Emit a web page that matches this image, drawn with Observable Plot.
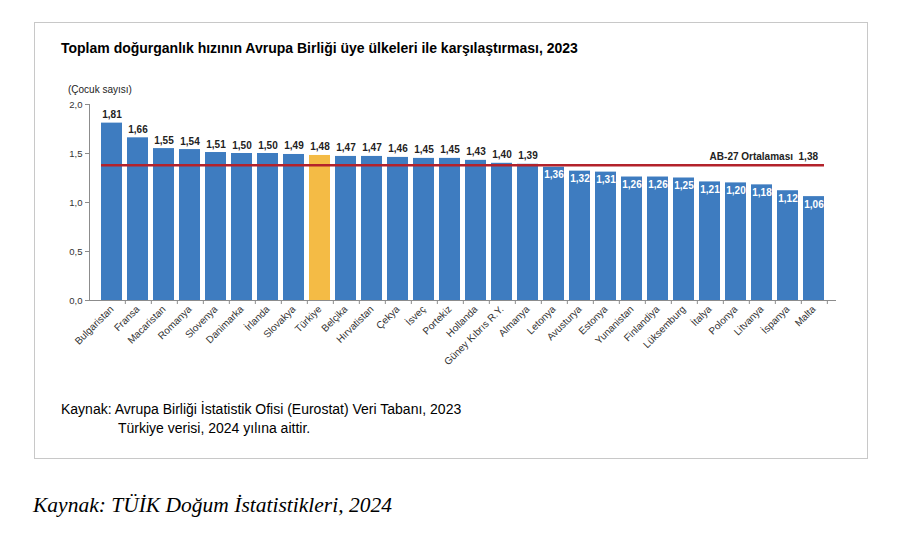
<!DOCTYPE html>
<html lang="tr">
<head>
<meta charset="utf-8">
<script src="https://cdn.jsdelivr.net/npm/d3@7"></script>
<script src="https://cdn.jsdelivr.net/npm/@observablehq/plot@0.6"></script>
<style>
  body { margin: 0; background: #fff; font-family: Arial, "Liberation Sans", sans-serif; }
  #page { position: relative; width: 900px; height: 542px; overflow: hidden; }
  #box { position: absolute; left: 34px; top: 22px; width: 832px; height: 435px; border: 1px solid #c8c8c8; }
  .t { position: absolute; white-space: nowrap; line-height: 1; color: #000; }
  #title { left: 61px; top: 41px; font-size: 14px; font-weight: bold; }
  #unit { left: 68px; top: 85px; font-size: 10px; color: #222; }
  #chart { position: absolute; left: 34px; top: 80px; }
  #src1 { left: 61px; top: 402px; font-size: 14px; }
  #src2 { left: 118px; top: 421px; font-size: 14px; }
  #src3 { left: 33px; top: 495px; font-size: 21.5px; font-style: italic; font-family: "Liberation Serif", "Times New Roman", serif; }
</style>
</head>
<body>
<div id="page">
  <div id="box"></div>
  <div class="t" id="title">Toplam doğurganlık hızının Avrupa Birliği üye ülkeleri ile karşılaştırması, 2023</div>
  <div class="t" id="unit">(Çocuk sayısı)</div>
  <div id="chart"></div>
  <div class="t" id="src1">Kaynak: Avrupa Birliği İstatistik Ofisi (Eurostat) Veri Tabanı, 2023</div>
  <div class="t" id="src2">Türkiye verisi, 2024 yılına aittir.</div>
  <div class="t" id="src3">Kaynak: TÜİK Doğum İstatistikleri, 2024</div>
</div>
<script>
// Total fertility rate by country, 2023 (Türkiye: 2024)
const countries = ["Bulgaristan", "Fransa", "Macaristan", "Romanya", "Slovenya", "Danimarka", "İrlanda", "Slovakya", "Türkiye", "Belçika", "Hırvatistan", "Çekya", "İsveç", "Portekiz", "Hollanda", "Güney Kıbrıs R.Y.", "Almanya", "Letonya", "Avusturya", "Estonya", "Yunanistan", "Finlandiya", "Lüksemburg", "İtalya", "Polonya", "Litvanya", "İspanya", "Malta"];
const rates = [1.81, 1.66, 1.55, 1.54, 1.51, 1.50, 1.50, 1.49, 1.48, 1.47, 1.47, 1.46, 1.45, 1.45, 1.43, 1.40, 1.39, 1.36, 1.32, 1.31, 1.26, 1.26, 1.25, 1.21, 1.20, 1.18, 1.12, 1.06];
const euAverage = 1.38;
const averageLabel = "AB-27 Ortalaması  1,38";
const yTicks = [0, 0.5, 1.0, 1.5, 2.0];
const highlight = "Türkiye";

const data = countries.map((c, i) => ({country: c, rate: rates[i]}));
const fmt = v => v.toFixed(2).replace(".", ",");
const first = countries[0];
const last = countries[countries.length - 1];

const W = 833, H = 310, ML = 55, MR = 31, MT = 24, MB = 90;
const step = (W - ML - MR) / countries.length;

const chart = Plot.plot({
  width: W,
  height: H,
  marginLeft: ML,
  marginRight: MR,
  marginTop: MT,
  marginBottom: MB,
  style: {fontFamily: "Arial, 'Liberation Sans', sans-serif", fontSize: "9px", color: "#333", background: "transparent"},
  x: {domain: countries, paddingInner: 0.21, paddingOuter: 0.105, label: null},
  y: {domain: [0, 2], label: null},
  marks: [
    Plot.barY(data, {
      x: "country", y: "rate",
      fill: d => d.country === highlight ? "#f4bb45" : "#3e7cc0"
    }),
    // axis lines
    Plot.ruleY([0], {stroke: "#8c8c8c"}),
    Plot.frame({anchor: "left", stroke: "#8c8c8c"}),
    // tick marks between bars
    Plot.ruleX(countries, {x: d => d, dx: step / 2, y1: 0, y2: 0, insetBottom: -4, stroke: "#8c8c8c"}),
    Plot.axisY({ticks: yTicks, tickFormat: d => d.toFixed(1).replace(".", ","), tickSize: 4, tickPadding: 3, stroke: "#8c8c8c", fontSize: 9.5, label: null}),
    Plot.axisX({tickRotate: -45, tickSize: 0, tickPadding: 7, fontSize: 10, label: null}),
    // EU-27 average
    Plot.ruleY([euAverage], {x1: () => first, x2: () => last, stroke: "#b3222b", strokeWidth: 2.5}),
    Plot.text([averageLabel], {x: () => last, y: () => euAverage, text: d => d, textAnchor: "end", lineAnchor: "bottom", dx: 4, dy: -5, fontWeight: "bold", fontSize: 10, fill: "#222"}),
    // value labels: above the bar when above the average, inside otherwise
    Plot.text(data.filter(d => d.rate > euAverage), {x: "country", y: "rate", text: d => fmt(d.rate), lineAnchor: "bottom", dy: -5, fontWeight: "bold", fontSize: 10, fill: "#222"}),
    Plot.text(data.filter(d => d.rate <= euAverage), {x: "country", y: "rate", text: d => fmt(d.rate), lineAnchor: "top", dy: 4, fontWeight: "bold", fontSize: 10, fill: "#fff"})
  ]
});
document.getElementById("chart").appendChild(chart);
</script>
</body>
</html>
